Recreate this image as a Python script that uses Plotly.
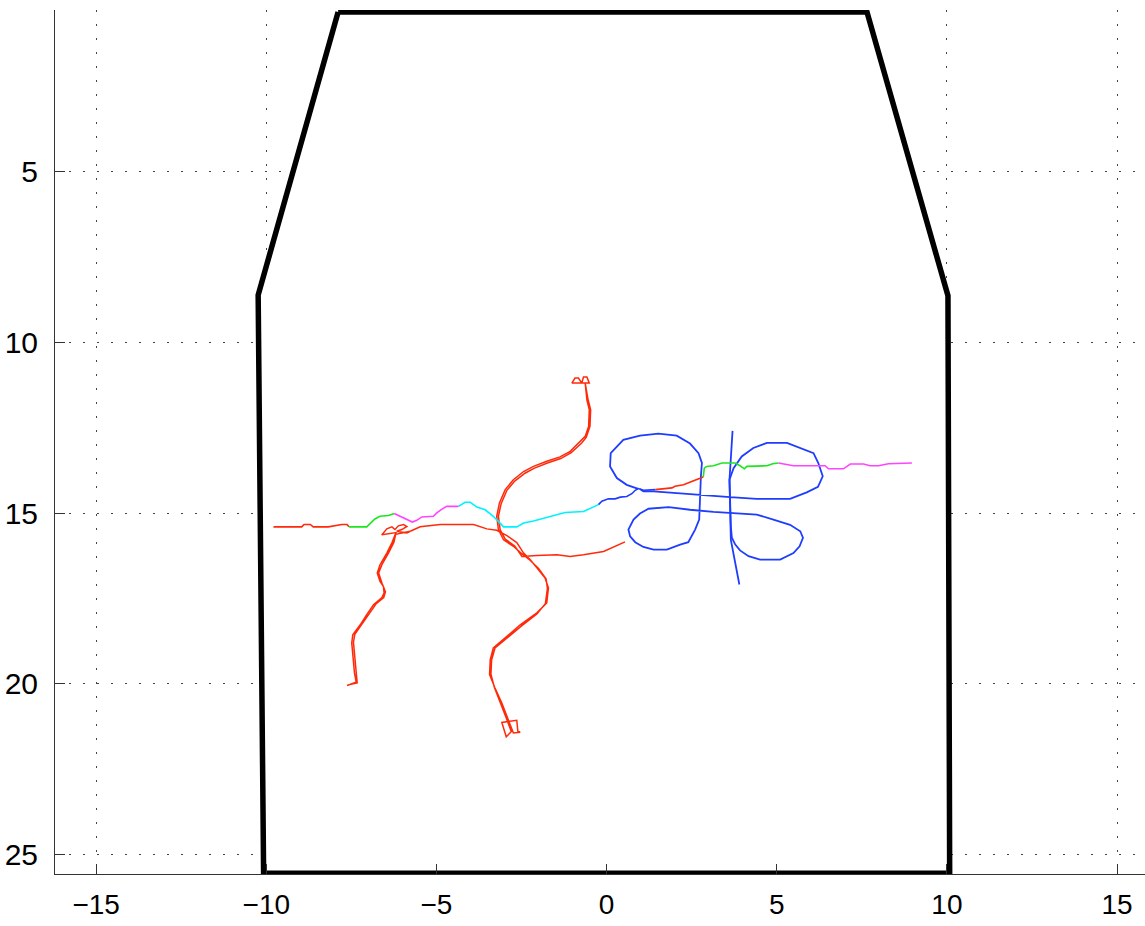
import plotly.graph_objects as go

# ---- room outline (data units) ----
room_x = [-7.89, 7.65, 10.03, 10.08, -10.08, -10.24, -7.89]
room_y = [0.32, 0.32, 8.63, 25.55, 25.55, 8.61, 0.32]

# ---- segmented track (colour changes along the way) ----
seg_red1_x = [-9.79, -8.96, -8.89, -8.71, -8.62, -8.18, -7.78, -7.63, -7.57]
seg_red1_y = [15.40, 15.40, 15.33, 15.33, 15.40, 15.40, 15.33, 15.33, 15.40]
seg_green1_x = [-7.57, -7.05, -6.81, -6.66, -6.41, -6.24]
seg_green1_y = [15.40, 15.40, 15.17, 15.09, 15.07, 15.01]
seg_mag1_x = [-6.24, -6.07, -5.87, -5.71, -5.58, -5.43, -5.09, -4.99, -4.84, -4.70, -4.35]
seg_mag1_y = [15.01, 15.09, 15.19, 15.26, 15.21, 15.11, 15.09, 14.99, 14.88, 14.80, 14.80]
seg_cyan_x = [-4.35, -4.16, -4.01, -3.81, -3.57, -3.33, -3.18, -3.03, -2.64, -2.44,
              -2.15, -1.86, -1.46, -1.22, -0.68, -0.24]
seg_cyan_y = [14.80, 14.68, 14.68, 14.82, 14.90, 15.09, 15.24, 15.40, 15.40, 15.29,
              15.23, 15.15, 15.05, 14.98, 14.95, 14.75]
seg_blue_x = [-0.24, -0.14, 0.05, 0.25, 0.40, 0.59, 0.74, 0.84, 0.93, 1.08, 1.43]
seg_blue_y = [14.75, 14.65, 14.58, 14.58, 14.53, 14.51, 14.43, 14.33, 14.28, 14.33, 14.31]
seg_red2_x = [1.43, 1.62, 1.92, 2.01, 2.26, 2.50, 2.70, 2.84]
seg_red2_y = [14.31, 14.29, 14.26, 14.21, 14.17, 14.07, 14.00, 13.94]
seg_green2_x = [2.84, 2.87, 2.94, 3.14, 3.39, 3.78, 3.92, 4.05, 4.12, 4.71, 4.88, 5.05]
seg_green2_y = [13.94, 13.68, 13.63, 13.61, 13.53, 13.53, 13.61, 13.70, 13.63, 13.61, 13.55, 13.53]
seg_mag2_x = [5.05, 5.49, 6.08, 6.42, 6.52, 6.96, 7.16, 7.55, 7.74, 7.99, 8.28, 8.97]
seg_mag2_y = [13.53, 13.61, 13.61, 13.61, 13.70, 13.70, 13.56, 13.56, 13.61, 13.61, 13.55, 13.53]

# ---- blue clover-leaf track ----
clover_x = [0.93, 0.59, 0.30, 0.10, 0.12, 0.49, 0.98, 1.52, 2.06, 2.45, 2.70, 2.80, 2.77,
            2.75, 2.73, 2.72, 2.60, 2.40, 2.16, 1.77, 1.38, 1.08, 0.84, 0.69, 0.64, 0.79,
            0.98, 1.23, 1.82, 2.45, 3.14, 3.63, 4.41, 4.90, 5.39, 5.69, 5.77, 5.67, 5.49,
            5.10, 4.51, 4.17, 3.92, 3.78, 3.68, 3.65, 3.63, 3.61, 3.61, 3.73, 3.97, 4.31,
            4.71, 5.30, 5.69, 6.08, 6.22, 6.35, 6.21, 5.88, 5.39, 4.41, 3.63, 2.55, 1.77,
            1.38, 1.08, 0.98]
clover_y = [14.29, 14.17, 13.97, 13.63, 13.24, 12.85, 12.73, 12.67, 12.73, 12.96, 13.24,
            13.53, 13.92, 14.41, 14.90, 15.19, 15.48, 15.85, 15.92, 16.07, 16.07, 15.99,
            15.85, 15.68, 15.48, 15.19, 15.01, 14.87, 14.82, 14.90, 14.96, 14.99, 15.04,
            15.19, 15.34, 15.53, 15.72, 15.97, 16.17, 16.36, 16.36, 16.26, 16.09, 15.92,
            15.72, 15.39, 14.90, 14.41, 14.02, 13.68, 13.34, 13.09, 12.94, 12.94, 13.09,
            13.24, 13.53, 13.92, 14.23, 14.39, 14.58, 14.58, 14.53, 14.46, 14.39, 14.36,
            14.36, 14.29]
vline_x = [3.70, 3.61, 3.65, 3.90]
vline_y = [12.59, 14.02, 15.78, 17.09]

# ---- red tracks ----
red_left_x = [-7.63, -7.49, -7.36, -7.41, -7.44, -7.49, -7.46, -7.24, -7.05, -6.85, -6.61,
              -6.54, -6.56, -6.66, -6.74, -6.66, -6.46, -6.31, -6.19,
              -6.61, -6.56, -6.46, -6.31, -6.22, -6.12, -5.97, -5.87, -6.02, -6.17, -5.87,
              -5.77, -6.20,
              -6.25, -6.40, -6.60, -6.70, -6.60, -6.50, -6.55, -6.78, -6.98, -7.18, -7.40,
              -7.44, -7.40, -7.36, -7.33, -7.55]
red_left_y = [20.05, 19.99, 19.95, 19.68, 19.29, 18.80, 18.56, 18.27, 17.97, 17.68, 17.48,
              17.34, 17.14, 17.00, 16.75, 16.51, 16.17, 15.87, 15.57,
              15.63, 15.58, 15.46, 15.40, 15.48, 15.37, 15.33, 15.39, 15.48, 15.53, 15.58,
              15.53, 15.62,
              15.85, 16.15, 16.50, 16.75, 17.05, 17.30, 17.47, 17.66, 17.95, 18.25, 18.55,
              18.78, 19.20, 19.60, 19.97, 20.02]

red_main_x = [-5.77, -5.58, -5.48, -4.89, -3.91, -3.52, -3.23, -2.93, -2.64, -2.44, -2.25,
              -2.05, -1.81, -1.71, -1.76, -2.05, -2.54, -2.93, -3.33, -3.42, -3.44, -3.28,
              -3.08, -2.89, -2.74, -2.54,
              -2.61, -2.64, -3.08, -2.95, -2.80,
              -2.95, -3.12, -3.30, -3.40, -3.38, -3.28, -2.90, -2.50, -2.05, -1.80, -1.74,
              -1.78, -2.00, -2.25, -2.54, -2.74, -3.03, -3.18, -3.23, -3.15, -2.98, -2.74,
              -2.44, -2.15, -1.76, -1.37, -1.07, -0.78, -0.63, -0.53, -0.51, -0.58, -0.63,
              -1.02, -0.93, -0.83, -0.73, -0.68, -0.58, -0.51, -0.63,
              -0.55, -0.47, -0.49, -0.60, -0.74, -1.04, -1.35, -1.74, -2.12, -2.40, -2.70,
              -2.93, -3.10, -3.18, -3.13, -2.98, -2.70, -2.49,
              -2.05, -1.46, -1.07, -0.68, -0.09, 0.54]
red_main_y = [15.53, 15.43, 15.40, 15.33, 15.33, 15.46, 15.50, 15.66, 15.86, 16.17, 16.36,
              16.60, 16.90, 17.19, 17.63, 17.92, 18.27, 18.61, 18.95, 19.29, 19.73, 20.12,
              20.56, 21.05, 21.44, 21.42,
              21.39, 21.07, 21.13, 21.55, 21.40,
              21.00, 20.55, 20.10, 19.72, 19.30, 18.95, 18.62, 18.30, 17.95, 17.65, 17.20,
              16.92, 16.62, 16.38, 16.15, 15.97, 15.78, 15.48, 15.09, 14.70, 14.31, 14.02,
              13.78, 13.63, 13.48, 13.35, 13.19, 12.90, 12.75, 12.46, 11.97, 11.68, 11.19,
              11.19, 11.04, 11.04, 11.19, 11.01, 11.01, 11.19, 11.19,
              11.65, 11.97, 12.46, 12.78, 12.95, 13.23, 13.40, 13.53, 13.68, 13.83, 14.06,
              14.33, 14.72, 15.09, 15.48, 15.76, 15.96, 16.27,
              16.24, 16.22, 16.27, 16.22, 16.12, 15.84]

x_ticks = [-15, -10, -5, 0, 5, 10, 15]
y_ticks = [5, 10, 15, 20, 25]

RED = "#ff2a0a"
BLUE = "#1f3dff"
GREEN = "#1ee61e"
MAGENTA = "#ff44ff"
CYAN = "#00f2ff"

fig = go.Figure()
fig.add_trace(go.Scatter(x=room_x, y=room_y, mode="lines", fill="toself",
                         fillcolor="white", line=dict(color="black", width=5.5)))

def add(x, y, color, width=1.6):
    fig.add_trace(go.Scatter(x=x, y=y, mode="lines",
                             line=dict(color=color, width=width)))

add(red_left_x, red_left_y, RED, 1.5)
add(red_main_x, red_main_y, RED, 1.5)
add(clover_x, clover_y, BLUE, 1.8)
add(vline_x, vline_y, BLUE, 1.8)
add(seg_red1_x, seg_red1_y, RED)
add(seg_green1_x, seg_green1_y, GREEN)
add(seg_mag1_x, seg_mag1_y, MAGENTA)
add(seg_cyan_x, seg_cyan_y, CYAN)
add(seg_blue_x, seg_blue_y, BLUE)
add(seg_red2_x, seg_red2_y, RED)
add(seg_green2_x, seg_green2_y, GREEN)
add(seg_mag2_x, seg_mag2_y, MAGENTA)

axis_common = dict(
    showline=True, linecolor="#333333", linewidth=1, mirror=False,
    ticks="inside", ticklen=10, tickwidth=1, tickcolor="#333333",
    showgrid=True, gridcolor="#444444", gridwidth=1, griddash="1.5px,12.5px",
    zeroline=False,
)

fig.update_layout(
    width=1145, height=926,
    margin=dict(l=55, r=0, t=10, b=52),
    paper_bgcolor="white", plot_bgcolor="white",
    showlegend=False,
    font=dict(family="Liberation Sans, Arial, Helvetica, sans-serif", color="black"),
    xaxis=dict(range=[-16.21, 15.82], tickvals=x_ticks,
               tickfont=dict(size=28), ticklabelstandoff=5, **axis_common),
    yaxis=dict(range=[25.57, 0.26], tickvals=y_ticks,
               tickfont=dict(size=30), ticklabelstandoff=10, **axis_common),
)

fig.write_html("out.html", config={"displayModeBar": False},
               post_script="document.body.style.margin='0';")
